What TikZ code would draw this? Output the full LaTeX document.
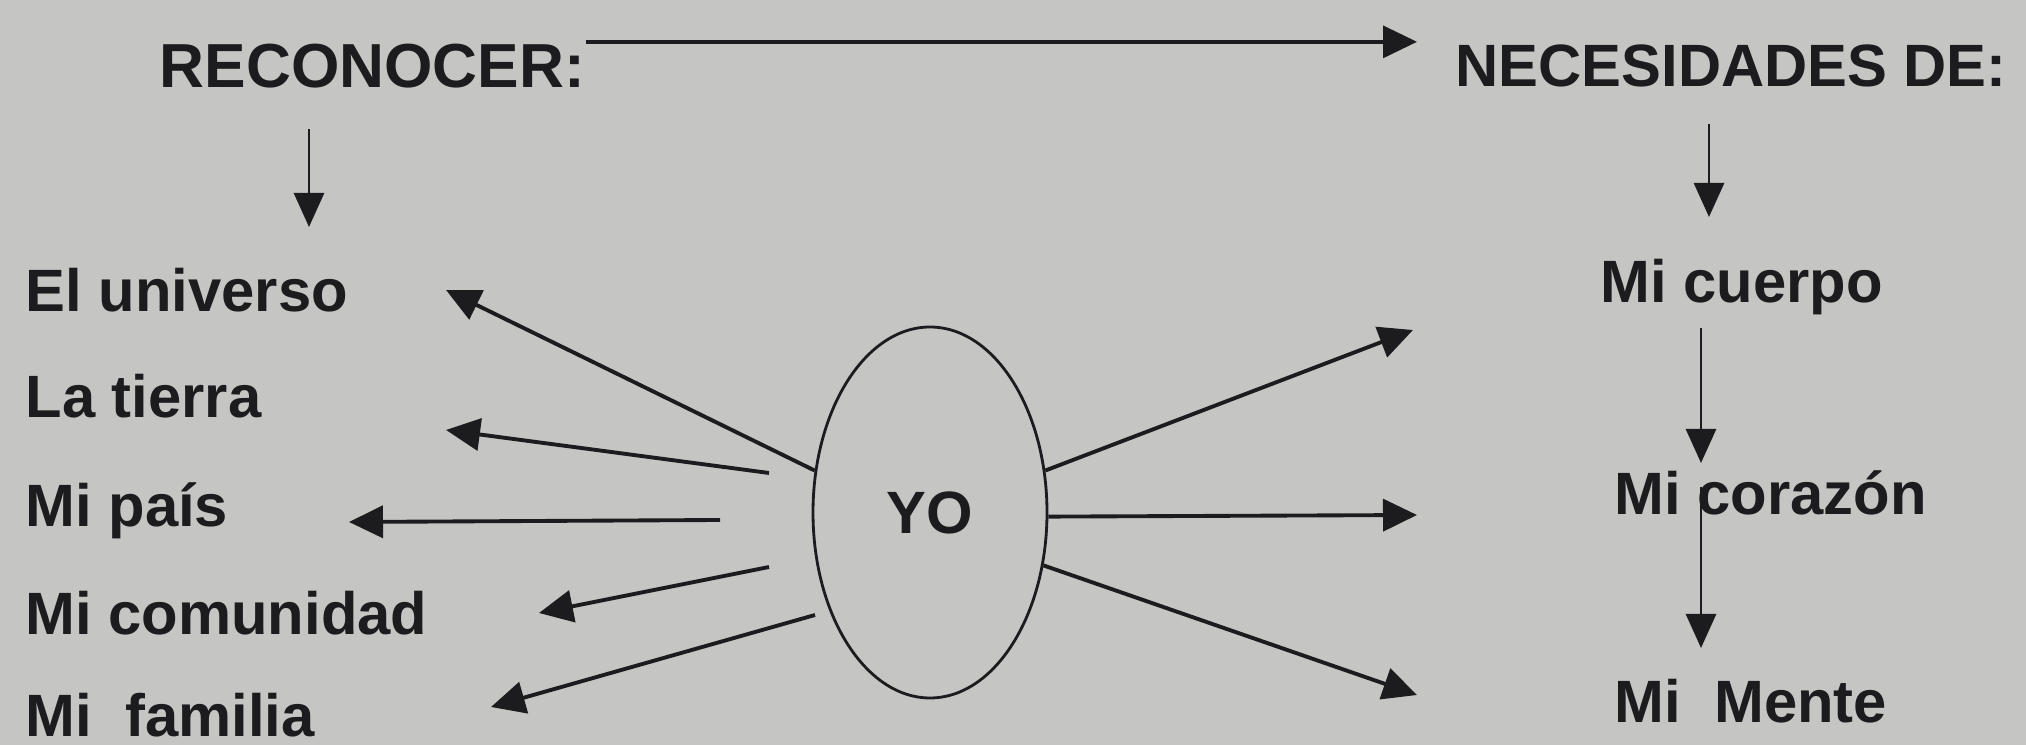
\documentclass[tikz,border=0pt]{standalone}
\usepackage{fontspec}
\setmainfont{Liberation Sans}
\usetikzlibrary{positioning,arrows.meta,shapes.geometric}
\definecolor{paper}{RGB}{197,197,196}
\definecolor{ink}{RGB}{28,28,30}

\begin{document}
\begin{tikzpicture}[
    lbl/.style={font=\bfseries\fontsize{17}{20}\selectfont, text=ink, inner sep=0pt, anchor=base west},
    me/.style={draw=ink, ellipse, line width=0.8pt, minimum width=2.34cm, minimum height=3.71cm, inner sep=0pt, font=\bfseries\fontsize{17}{20}\selectfont, text=ink},
    ray/.style={-{Triangle[length=3.4mm, width=3.2mm]}, draw=ink, line width=1.1pt},
    drop/.style={-{Triangle[length=3.4mm, width=3.0mm]}, draw=ink, line width=0.8pt}
]
\fill[paper] (0,0) rectangle (20.26,7.45);

% headings
\node[lbl, font=\bfseries\fontsize{17.7}{20}\selectfont] (reco) at (1.59,6.57) {RECONOCER:};
\node[lbl] (nece) at (14.55,6.58) {NECESIDADES DE:};

% left column
\node[lbl] (universo) at (0.25,4.33) {El universo};
\node[lbl] (tierra) at (0.25,3.27) {La tierra};
\node[lbl] (pais) at (0.25,2.18) {Mi país};
\node[lbl] (comunidad) at (0.25,1.10) {Mi comunidad};
\node[lbl] (familia) at (0.25,0.08) {Mi\ \ familia};

% right column
\node[lbl] (cuerpo) at (16.0,4.42) {Mi cuerpo};
\node[lbl] (corazon) at (16.14,2.30) {Mi corazón};
\node[lbl] (mente) at (16.14,0.22) {Mi\ \ Mente};

% centre
\node[me] (yo) at (9.30,2.325) {YO};

% arrow ends
\coordinate (recodown) at (3.09,5.18);
\coordinate (necedown) at (17.09,5.28);
\coordinate (cuerpodown) at (17.01,2.82);
\coordinate (corazonin) at (17.01,2.58);
\coordinate (corazondown) at (17.01,0.97);
\coordinate (tu) at (4.46,4.55);
\coordinate (tt) at (4.46,3.15);
\coordinate (tp) at (3.49,2.23);
\coordinate (tc) at (5.39,1.32);
\coordinate (tf) at (4.91,0.38);
\coordinate (st) at (7.69,2.72);
\coordinate (sp) at (7.20,2.25);
\coordinate (sc) at (7.69,1.78);
\coordinate (sf) at (8.15,1.30);
\coordinate (r1) at (14.13,4.15);
\coordinate (r2) at (14.17,2.30);
\coordinate (r3) at (14.17,0.50);

\draw[ray, line width=1pt, shorten >=3.8mm] ([yshift=0.2mm]reco.north east) -- ([yshift=0.2mm]reco.north east -| nece.west);
\draw[drop, shorten <=4mm] (reco.south -| recodown) -- (recodown);
\draw[drop, shorten <=3.6mm] (nece.south -| necedown) -- (necedown);
\draw[drop, shorten <=1.2mm] (cuerpo.south -| cuerpodown) -- (cuerpodown);
\draw[drop] (corazonin) -- (corazondown);

\draw[ray] (yo.160.6) -- (tu);
\draw[ray] (st) -- (tt);
\draw[ray] (sp) -- (tp);
\draw[ray] (sc) -- (tc);
\draw[ray] (sf) -- (tf);
\draw[ray] (yo.20.8) -- (r1);
\draw[ray] (yo.-2.3) -- (r2);
\draw[ray] (yo.-25.9) -- (r3);
\end{tikzpicture}
\end{document}
